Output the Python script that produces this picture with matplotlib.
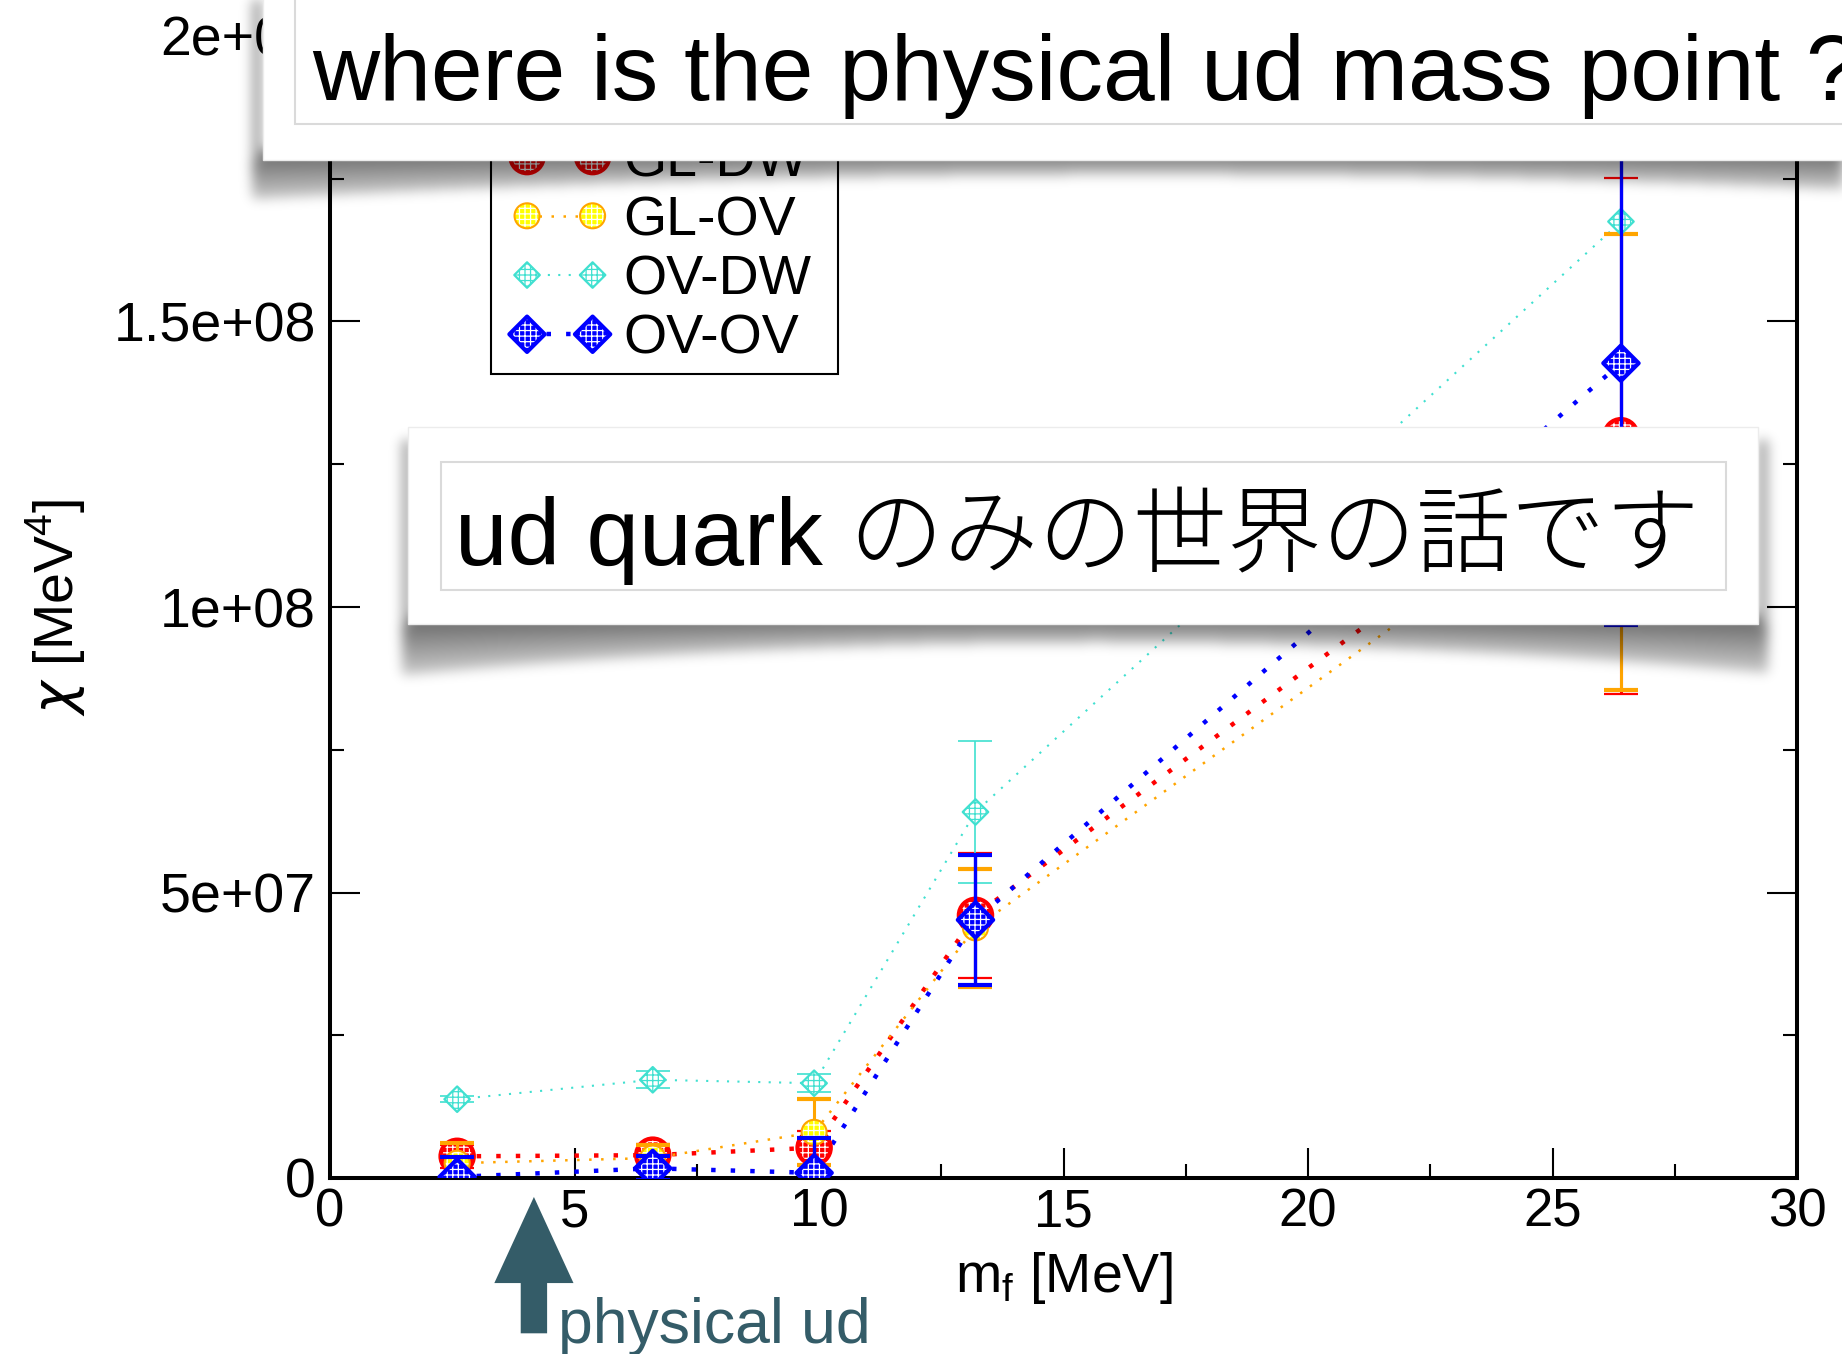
"""
Topological susceptibility vs. ud quark mass for the four valence/sea
combinations, with the slide call-outs drawn on top.

Usage:
    python plot.py
"""

import numpy as np
import matplotlib
matplotlib.use("Agg")
import matplotlib.pyplot as plt
from matplotlib.lines import Line2D
from matplotlib.collections import PathCollection
from matplotlib.patches import Rectangle
from matplotlib.ticker import MultipleLocator, FuncFormatter
from matplotlib.legend_handler import HandlerTuple, HandlerLine2D, HandlerPathCollection

plt.rcParams["font.family"] = ["Liberation Sans", "DejaVu Sans"]
plt.rcParams["mathtext.fontset"] = "custom"
plt.rcParams["mathtext.rm"] = "Liberation Sans"
plt.rcParams["mathtext.it"] = "DejaVu Sans:italic"
plt.rcParams["hatch.linewidth"] = 0.9

# quark masses [MeV]
m_f = [2.6, 6.6, 9.9, 13.2, 26.4]

gl_dw = [3.8e6, 4.0e6, 5.3e6, 4.6e7, 1.30e8]
gl_dw_err = [2.0e6, 2.0e6, 3.0e6, 1.1e7, 4.52e7]

gl_ov = [2.6e6, 3.5e6, 8.0e6, 4.38e7, 1.254e8]
gl_ov_err = [3.5e6, 2.3e6, 5.8e6, 1.03e7, 3.99e7]

ov_dw = [1.38e7, 1.72e7, 1.66e7, 6.41e7, 1.675e8]
ov_dw_err = [0.5e6, 1.5e6, 1.55e6, 1.25e7, 5.0e7]

ov_ov = [0.2e6, 1.7e6, 0.9e6, 4.52e7, 1.427e8]
ov_ov_err = [3.5e6, 2.1e6, 6.1e6, 1.14e7, 4.59e7]

labels = ["GL-DW", "GL-OV", "OV-DW", "OV-OV"]
phys_ud = 4.17  # physical ud mass [MeV]

W, H = 1842, 1354
SLATE = "#345c68"


def blur(a, sigma):
    r = int(3 * sigma)
    k = np.exp(-0.5 * (np.arange(-r, r + 1) / sigma) ** 2)
    k /= k.sum()
    a = np.array([np.convolve(row, k, mode="same") for row in a])
    a = np.array([np.convolve(col, k, mode="same") for col in a.T]).T
    return a


def curl_shadow(alpha, x0, x1, y_top, y_box, bottoms, side_top):
    # lifted-corner shadow: deeper at both ends, shallow in the middle
    xs = np.array([x0, (x0 + x1) / 2, x1], dtype=float)
    coef = np.polyfit(xs, bottoms, 2)
    for x in range(max(x0, 0), min(x1, W)):
        yb = int(np.polyval(coef, x))
        n = yb - y_top
        if n > 0:
            alpha[y_top:yb, x] = np.maximum(alpha[y_top:yb, x], np.linspace(1.0, 0.35, n))
    alpha[side_top:y_box, x0:x0 + 10] = 0.6
    if x1 < W:
        alpha[side_top:y_box, x1 - 10:x1] = 0.6


def draw_set(ax, y, err, color, marker, ms, face, hatch_col, edge_lw,
             elw, capthick, ls, lw, z):
    line, = ax.plot(m_f, y, color=color, ls=ls, lw=lw, zorder=2)
    ax.errorbar(m_f, y, yerr=err, fmt="none", ecolor=color, elinewidth=elw,
                capsize=12, capthick=capthick, zorder=z)
    fill = ax.scatter(m_f, y, s=ms ** 2, marker=marker, facecolor=face,
                      edgecolor=hatch_col, hatch="+++", linewidth=0, zorder=z + 0.5)
    rim = ax.scatter(m_f, y, s=ms ** 2, marker=marker, facecolor="none",
                     edgecolor=color, linewidth=edge_lw, zorder=z + 0.6)
    return (line, fill, rim)


def main():
    fig = plt.figure(figsize=(W / 100, H / 100), dpi=100)
    ax = fig.add_axes([330 / W, 1 - 1178 / H, 1467 / W, 1142 / H])

    handles = [
        draw_set(ax, gl_dw, gl_dw_err, "red", "o", 24, "red", "white", 3,
                 2.2, 1.6, (0, (1, 3.4)), 3.2, 3),
        draw_set(ax, gl_ov, gl_ov_err, "orange", "o", 18, "yellow", "white", 1.5,
                 2.2, 3.0, (0, (1, 3.8)), 1.8, 5),
        draw_set(ax, ov_dw, ov_dw_err, "turquoise", "D", 13, "white", "turquoise", 1.6,
                 1.2, 1.2, (0, (1, 4)), 1.5, 7),
        draw_set(ax, ov_ov, ov_ov_err, "blue", "D", 18, "blue", "white", 3.0,
                 2.4, 3.0, (0, (1, 3.4)), 3.2, 9),
    ]

    ax.set_xlim(0, 30)
    ax.set_ylim(0, 2e8)
    ax.xaxis.set_major_locator(MultipleLocator(5))
    ax.xaxis.set_minor_locator(MultipleLocator(2.5))
    ax.yaxis.set_major_locator(MultipleLocator(5e7))
    ax.yaxis.set_minor_locator(MultipleLocator(2.5e7))
    ax.xaxis.set_major_formatter(FuncFormatter(lambda v, p: "%g" % v))
    ax.yaxis.set_major_formatter(FuncFormatter(lambda v, p: "%g" % v))
    ax.tick_params(which="both", direction="in", top=True, right=True, width=1.5)
    ax.tick_params(which="major", length=21.5)
    ax.tick_params(which="minor", length=10)
    ax.tick_params(axis="x", pad=7, labelsize=38)
    ax.tick_params(axis="y", pad=10, labelsize=40)
    for sp in ax.spines.values():
        sp.set_linewidth(2.9)

    ax.set_xlabel("m$_\\mathrm{f}$ [MeV]", fontsize=40)
    ax.set_ylabel("$\\chi$ [MeV$^4$]", fontsize=40)
    ax.xaxis.set_label_coords(0.5, -0.063)
    ax.yaxis.set_label_coords(-0.165, 0.5)

    hmap = {tuple: HandlerTuple(ndivide=1),
            Line2D: HandlerLine2D(marker_pad=0.5),
            PathCollection: HandlerPathCollection(marker_pad=0.5)}
    leg = ax.legend(handles, labels, handler_map=hmap, mode="expand",
                    loc="lower left", bbox_to_anchor=(0.1097, 0.704, 0.2365, 0),
                    borderaxespad=0, fontsize=40, numpoints=2, scatterpoints=2,
                    scatteryoffsets=[0.5], handlelength=2.18, handletextpad=0.05,
                    borderpad=0.15, labelspacing=0.13, fancybox=False, framealpha=1)
    leg.get_frame().set_edgecolor("black")
    leg.get_frame().set_linewidth(1.5)
    leg.set_zorder(20)

    # arrow marking the physical ud mass below the axis
    ax.annotate("", xy=(phys_ud, -0.0166), xytext=(phys_ud, -0.136),
                xycoords=("data", "axes fraction"), textcoords=("data", "axes fraction"),
                arrowprops=dict(arrowstyle="simple,head_length=62,head_width=57,tail_width=19",
                                mutation_scale=1, fc=SLATE, ec="none",
                                shrinkA=0, shrinkB=0),
                annotation_clip=False)
    ax.annotate("physical ud", xy=(phys_ud, 0), xycoords=("data", "axes fraction"),
                xytext=(17, -119), textcoords="offset points", va="baseline",
                ha="left", fontsize=45, color=SLATE, annotation_clip=False)

    # slide call-outs drawn over the plot in pixel coordinates
    ov = fig.add_axes([0, 0, 1, 1], zorder=30)
    ov.set_xlim(0, W)
    ov.set_ylim(H, 0)
    ov.axis("off")
    ov.patch.set_alpha(0)

    alpha = np.zeros((H, W))
    curl_shadow(alpha, 252, W + 40, 150, 160, [200, 176, 192], 0)
    curl_shadow(alpha, 402, 1767, 615, 624, [676, 644, 674], 440)
    alpha = blur(alpha, 6) * 0.62
    rgba = np.zeros((H, W, 4))
    rgba[..., 3] = np.clip(alpha, 0, 1)
    ov.imshow(rgba, extent=(0, W, H, 0), interpolation="nearest", zorder=1)

    ov.add_patch(Rectangle((263, -20), W, 180, fc="white", ec="#ececec", lw=1, zorder=2))
    ov.add_patch(Rectangle((295, -20), W, 144, fc="none", ec="#dadada", lw=1.5, zorder=3))
    ov.add_patch(Rectangle((408, 427), 1350, 197, fc="white", ec="#ececec", lw=1, zorder=2))
    ov.add_patch(Rectangle((441, 462), 1285, 128, fc="none", ec="#dadada", lw=1.5, zorder=3))

    callout_font = ["Liberation Sans", "Noto Sans CJK JP"]
    ov.text(312, 100, "where is the physical ud mass point ?", fontsize=67,
            va="baseline", ha="left", family=callout_font, fontweight="light", zorder=4)
    ov.text(455, 565, "ud quark のみの世界の話です", fontsize=68,
            va="baseline", ha="left", family=callout_font, fontweight="light", zorder=4)

    fig.savefig("out.png", dpi=100)
    print("Saved figure to: out.png")


if __name__ == "__main__":
    main()
